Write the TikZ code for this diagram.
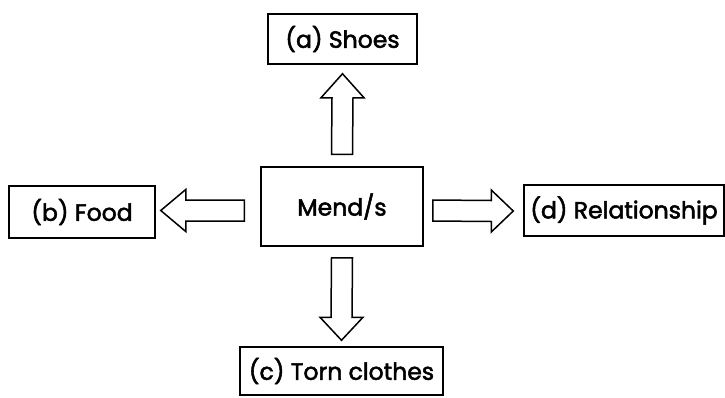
\documentclass[tikz,border=0pt]{standalone}
\usepackage{fontspec}
\setmainfont{Poppins}[UprightFeatures={FakeBold=2.2}]
\usetikzlibrary{calc}
\begin{document}
\begin{tikzpicture}[x=1pt,y=-1pt,
  box/.style={draw=black,line width=1.5pt,rectangle,inner sep=0pt,font=\fontsize{23.5}{26}\selectfont},
  blockarrow/.style={draw=black,line width=1.5pt,fill=white,line join=miter}]
\useasboundingbox (0,0) rectangle (725,397);
\node[box,minimum width=149pt,minimum height=50pt] (shoes) at (342.5,39) {(a) Shoes};
\node[box,minimum width=162pt,minimum height=79pt] (mend) at (342,206.5) {Mend/s};
\node[box,minimum width=146pt,minimum height=52pt] (food) at (82,212) {(b) Food};
\node[box,minimum width=200pt,minimum height=51pt] (rel) at (624,210.5) {(d) Relationship};
\node[box,minimum width=203pt,minimum height=48pt] (torn) at (341.5,371) {(c) Torn clothes};
% up arrow
\coordinate (ua) at ($(mend.north)+(0,-12)$);
\coordinate (ut) at ($(shoes.south)+(0,9)$);
\draw[blockarrow] ($(ua)+(-10.5,0)$) -- ($(ut)+(-10.5,24)$) -- ($(ut)+(-21.5,24)$) -- (ut)
  -- ($(ut)+(21.5,24)$) -- ($(ut)+(10.5,24)$) -- ($(ua)+(10.5,0)$) -- cycle;
% down arrow
\coordinate (da) at ($(mend.south)+(0,11)$);
\coordinate (dt) at ($(torn.north)+(0,-6)$);
\draw[blockarrow] ($(da)+(-10.5,0)$) -- ($(dt)+(-10.5,-23)$) -- ($(dt)+(-21.5,-23)$) -- (dt)
  -- ($(dt)+(21.5,-23)$) -- ($(dt)+(10.5,-23)$) -- ($(da)+(10.5,0)$) -- cycle;
% left arrow
\coordinate (la) at ($(mend.west)+(-16,4)$);
\coordinate (lt) at ($(food.east)+(5,-1.5)$);
\draw[blockarrow] ($(la)+(0,-10.5)$) -- ($(lt)+(25,-10.5)$) -- ($(lt)+(25,-21)$) -- (lt)
  -- ($(lt)+(25,21)$) -- ($(lt)+(25,10.5)$) -- ($(la)+(0,10.5)$) -- cycle;
% right arrow
\coordinate (ra) at ($(mend.east)+(9,4)$);
\coordinate (rt) at ($(rel.west)+(-10,0.5)$);
\draw[blockarrow] ($(ra)+(0,-10.5)$) -- ($(rt)+(-22,-10.5)$) -- ($(rt)+(-22,-21)$) -- (rt)
  -- ($(rt)+(-22,21)$) -- ($(rt)+(-22,10.5)$) -- ($(ra)+(0,10.5)$) -- cycle;
\end{tikzpicture}
\end{document}
